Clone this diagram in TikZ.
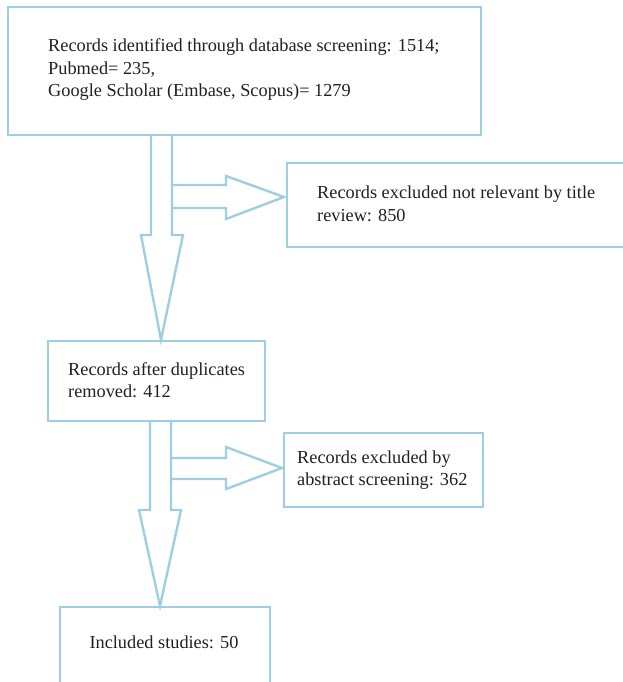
\documentclass[tikz,border=0pt]{standalone}
\usepackage{fontspec}
\setmainfont{Liberation Serif}
\definecolor{flowblue}{RGB}{158,206,227}
\definecolor{txt}{RGB}{35,31,32}
\begin{document}
\begin{tikzpicture}[x=1pt,y=-1pt,
  box/.style={draw=flowblue,line width=2.4pt,rectangle,inner sep=0pt,fill=none},
  lbl/.style={inner sep=0pt,text=txt,font=\fontsize{18.3}{22.5}\selectfont,align=left,anchor=west},
  blockarrow/.style={draw=flowblue,line width=2.4pt,line join=miter}]
\useasboundingbox (0,0) rectangle (623,682);
\clip (0,0) rectangle (623,682);
% boxes
\node[box,minimum width=473pt,minimum height=128pt] (b1) at (244.5,71) {};
\node[box,minimum width=350pt,minimum height=84pt] (x1) at (462,205) {};
\node[box,minimum width=217pt,minimum height=80pt] (b2) at (156.5,381) {};
\node[box,minimum width=199pt,minimum height=74pt] (x2) at (383.5,470) {};
\node[box,minimum width=210pt,minimum height=100pt] (b3) at (165,657) {};
% texts
\node[lbl] (t1) at (48,70) {Records identified through database screening: 1514;\\Pubmed= 235,\\Google Scholar (Embase, Scopus)= 1279};
\node[lbl] (tx1) at (317,204) {Records excluded not relevant by title\\review: 850};
\node[lbl] (t2) at (68,380) {Records after duplicates\\removed: 412};
\node[lbl] (tx2) at (297,470) {Records excluded by\\abstract screening: 362};
\node[lbl,anchor=center] (t3) at (164,642) {Included studies: 50};
% vertical block arrows
\draw[blockarrow] (151,135) -- (151,235) -- (141,235) -- (b2.north -| 161,0) -- (183,235) -- (172,235) -- (172,135);
\draw[blockarrow] (150,421) -- (150,510) -- (139,510) -- (b3.north -| 160,0) -- (181,510) -- (171,510) -- (171,421);
% horizontal block arrows
\draw[blockarrow] (172,185) -- (226,185) -- (226,176) -- (284,197) -- (226,219) -- (226,208) -- (172,208);
\draw[blockarrow] (171,458) -- (226,458) -- (226,447) -- (282,468) -- (226,489) -- (226,479) -- (171,479);
\end{tikzpicture}
\end{document}
